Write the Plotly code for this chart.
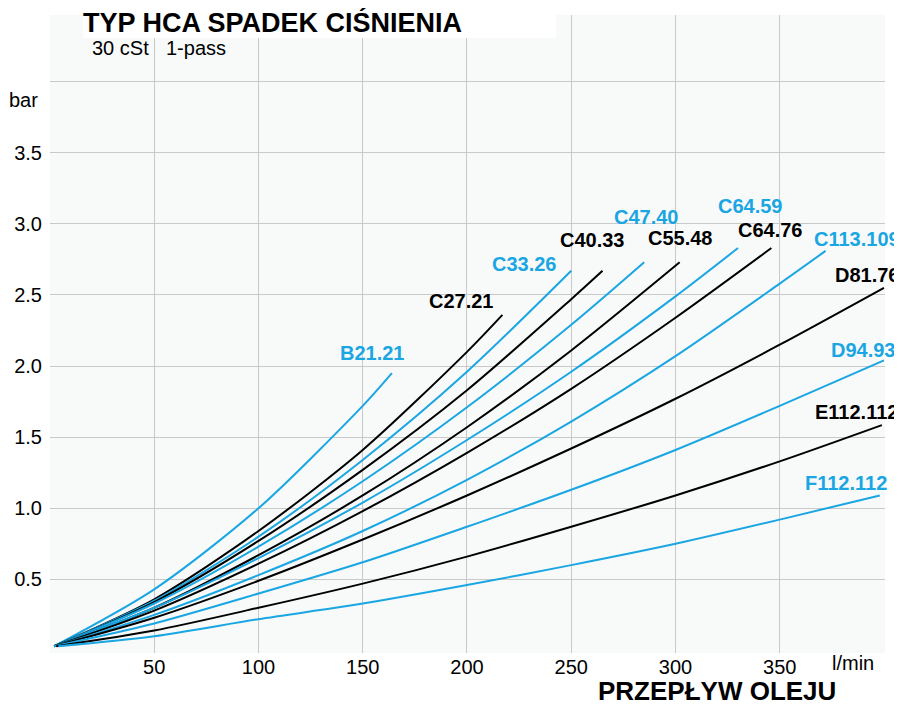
import plotly.graph_objects as go

# ---------------- data ----------------
names = ["B21.21", "C27.21", "C33.26", "C40.33", "C47.40", "C55.48", "C64.59",
         "C64.76", "C113.109", "D81.76", "D94.93", "E112.112", "F112.112"]

flow_B21_21 = [2, 50, 100, 150, 164]
dp_B21_21 = [0.03, 0.43, 1.00, 1.72, 1.95]
flow_C27_21 = [2, 50, 100, 150, 200, 217]
dp_C27_21 = [0.03, 0.36, 0.84, 1.41, 2.10, 2.36]
flow_C33_26 = [2, 50, 100, 150, 200, 250]
dp_C33_26 = [0.03, 0.35, 0.80, 1.34, 1.96, 2.67]
flow_C40_33 = [2, 50, 100, 150, 200, 250, 265]
dp_C40_33 = [0.03, 0.34, 0.77, 1.27, 1.83, 2.47, 2.67]
flow_C47_40 = [2, 50, 100, 150, 200, 250, 285]
dp_C47_40 = [0.03, 0.33, 0.73, 1.19, 1.71, 2.29, 2.73]
flow_C55_48 = [2, 50, 100, 150, 200, 250, 302]
dp_C55_48 = [0.03, 0.30, 0.67, 1.09, 1.57, 2.11, 2.73]
flow_C64_59 = [2, 50, 100, 150, 200, 250, 300, 330]
dp_C64_59 = [0.03, 0.30, 0.65, 1.04, 1.48, 1.96, 2.49, 2.83]
flow_C64_76 = [2, 50, 100, 150, 200, 250, 300, 346]
dp_C64_76 = [0.03, 0.28, 0.61, 0.98, 1.39, 1.84, 2.34, 2.83]
flow_C113_109 = [2, 50, 100, 150, 200, 250, 300, 350, 372]
dp_C113_109 = [0.03, 0.25, 0.53, 0.84, 1.20, 1.61, 2.07, 2.58, 2.81]
flow_D81_76 = [2, 50, 100, 150, 200, 250, 300, 350, 400]
dp_D81_76 = [0.03, 0.23, 0.49, 0.78, 1.09, 1.42, 1.77, 2.15, 2.55]
flow_D94_93 = [2, 50, 100, 150, 200, 250, 300, 350, 400]
dp_D94_93 = [0.03, 0.19, 0.40, 0.62, 0.87, 1.13, 1.41, 1.72, 2.04]
flow_E112_112 = [3, 50, 100, 150, 200, 250, 300, 350, 399]
dp_E112_112 = [0.03, 0.14, 0.30, 0.47, 0.66, 0.87, 1.09, 1.33, 1.585]
flow_F112_112 = [4, 50, 100, 150, 200, 250, 300, 350, 398]
dp_F112_112 = [0.03, 0.10, 0.22, 0.33, 0.46, 0.60, 0.75, 0.92, 1.09]

x_ticks = [50, 100, 150, 200, 250, 300, 350]
y_ticks = [0.5, 1.0, 1.5, 2.0, 2.5, 3.0, 3.5, 4.0]
y_tick_text = ["0.5", "1.0", "1.5", "2.0", "2.5", "3.0", "3.5", ""]

# label anchor positions (data units)
label_x = [154.9, 197.6, 227.8, 260.4, 285.9, 302.6, 336.2, 345.8, 387.1, 392.3, 390.4, 386.6, 381.8]
label_y = [2.091, 2.457, 2.721, 2.886, 3.051, 2.900, 3.125, 2.956, 2.897, 2.640, 2.113, 1.680, 1.177]

series = [
    (flow_B21_21, dp_B21_21), (flow_C27_21, dp_C27_21), (flow_C33_26, dp_C33_26),
    (flow_C40_33, dp_C40_33), (flow_C47_40, dp_C47_40), (flow_C55_48, dp_C55_48),
    (flow_C64_59, dp_C64_59), (flow_C64_76, dp_C64_76), (flow_C113_109, dp_C113_109),
    (flow_D81_76, dp_D81_76), (flow_D94_93, dp_D94_93), (flow_E112_112, dp_E112_112),
    (flow_F112_112, dp_F112_112),
]

# ---------------- style ----------------
BLUE = "#1aa6e2"
BLACK = "#000000"
FONT = "Liberation Sans, Arial, Helvetica, sans-serif"
OFF = 8  # page body margin of the browser
W, H = 902 - OFF, 705 - OFF
ML, MR, MT, MB = 50 - OFF, 17, 15 - OFF, 52
PW, PH = W - ML - MR, H - MT - MB


def px_x(px):
    return (px - OFF - ML) / PW


def px_y(py):
    return (H - MB - (py - OFF)) / PH


fig = go.Figure()
for i, (name, (xs, ys)) in enumerate(zip(names, series)):
    col = BLUE if i % 2 == 0 else BLACK
    fig.add_trace(go.Scatter(x=xs, y=ys, mode="lines", name=name,
                             line=dict(color=col, width=2, shape="spline", smoothing=0.8),
                             hoverinfo="name+x+y"))
    fig.add_annotation(x=label_x[i], y=label_y[i], xref="x", yref="y", text="<b>%s</b>" % name,
                       showarrow=False, font=dict(family=FONT, size=20, color=col),
                       xanchor="center", yanchor="middle")

# title box (white) covering top of plot
fig.add_shape(type="rect", xref="paper", yref="paper",
              x0=px_x(83), x1=px_x(556), y0=px_y(38), y1=px_y(-2),
              fillcolor="white", line=dict(width=0), layer="above")

texts = [
    ("<b>TYP HCA SPADEK CIŚNIENIA</b>", 81, 23, 27),
    ("30 cSt", 90, 48, 20),
    ("1-pass", 164, 48, 20),
    ("bar", 7, 100, 20),
    ("l/min", 830, 663, 20),
    ("<b>PRZEPŁYW OLEJU</b>", 596, 691, 26),
]
for t, px, py, sz in texts:
    fig.add_annotation(x=px_x(px), y=px_y(py), xref="paper", yref="paper", text=t,
                       showarrow=False, xanchor="left", yanchor="middle",
                       font=dict(family=FONT, size=sz, color="black"))

fig.update_layout(
    width=W, height=H,
    margin=dict(l=ML, r=MR, t=MT, b=MB, pad=0),
    paper_bgcolor="white", plot_bgcolor="#f8fafa",
    showlegend=False,
    font=dict(family=FONT, size=20, color="black"),
    xaxis=dict(range=[0, 400.5], tickvals=x_ticks, ticks="", showgrid=True,
               gridcolor="#c9c9c9", gridwidth=1, zeroline=False, showline=False,
               tickfont=dict(family=FONT, size=20, color="black")),
    yaxis=dict(range=[-0.018, 4.469], tickvals=y_ticks, ticktext=y_tick_text, ticks="",
               showgrid=True, gridcolor="#c9c9c9", gridwidth=1, zeroline=False,
               showline=False, ticklabelstandoff=7,
               tickfont=dict(family=FONT, size=20, color="black")),
)

fig.write_html("out.html")
